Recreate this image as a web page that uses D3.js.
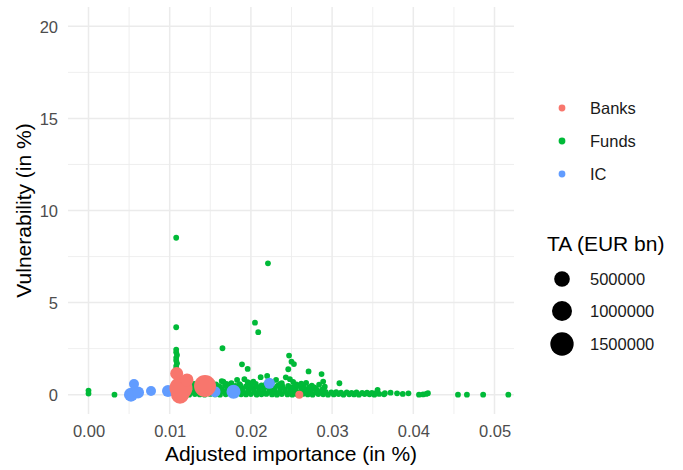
<!DOCTYPE html>
<html><head><meta charset="utf-8">
<script src="https://cdn.jsdelivr.net/npm/d3@7"></script>
<style>body{margin:0;background:#fff} text{font-family:"Liberation Sans",Arial,sans-serif}</style>
</head><body><svg id="c" width="683" height="470"></svg>
<script>
// ---------------- DATA ----------------
const seriesNames = ["Banks", "Funds", "IC"];
const xTicks = [0, 0.01, 0.02, 0.03, 0.04, 0.05];
const xMinor = [0.005, 0.015, 0.025, 0.035, 0.045];
const yTicks = [0, 5, 10, 15, 20];
const yMinor = [2.5, 7.5, 12.5, 17.5];
const sizeBreaks = [500000, 1000000, 1500000];

// [adjusted importance %, vulnerability %, total assets EUR bn]
const banks = [
  [0.01127, 0.00, 748000],
  [0.01139, 0.36, 1446000],
  [0.01086, 1.15, 278000],
  [0.01213, 0.80, 278000],
  [0.01435, 0.47, 1289000],
  [0.02596, 0.00, 36000]
];
const ic = [
  [0.00523, 0.00, 354000],
  [0.00560, 0.58, 105000],
  [0.00610, 0.12, 211000],
  [0.00770, 0.20, 105000],
  [0.00979, 0.20, 211000],
  [0.01558, 0.16, 154000],
  [0.01786, 0.16, 354000],
  [0.02227, 0.62, 154000]
];
const fundsTA = 1500; // typical (small) fund total assets
// [adjusted importance %, vulnerability %]
const funds = [
  [0.0108,8.52],[0.0221,7.13],[0.0108,3.66],[0.0205,3.91],[0.0209,3.39],[0.0165,2.52],
  [0.0189,1.65],[0.0196,1.40],[0.0247,2.12],[0.0250,1.79],[0.0253,1.66],[0.0246,1.38],
  [0.0271,1.26],[0.0287,1.12],[0.0289,0.71],[0.0291,0.43],[0.0309,0.62],[0.0356,0.26],
  [0.0220,1.02],[0.0212,0.95],[0.0243,0.94],[0.0192,0.84],[0.0238,0.62],[0.0203,0.71],
  [0.0275,0.49],[0.0231,0.80],[0.0248,0.84],[0.0183,0.80],[0.0166,0.71],[0.0176,0.62],
  [0.0164,0.74],[0.0201,0.62],
  [0.0108,2.45],[0.0108,2.30],[0.0109,2.15],[0.0108,2.00],[0.0108,1.85],[0.0109,1.70],
  [0.0108,1.55],[0.0108,1.40],[0.0109,1.25],
  [0.0000,0.22],[0.0000,0.06],[0.0032,0.00],
  [0.0365,0.08],[0.0372,0.11],[0.0380,0.07],[0.0387,0.04],[0.0394,0.07],[0.0407,0.00],
  [0.0412,0.01],[0.0416,0.04],[0.0418,0.08],[0.0455,0.00],[0.0466,0.00],[0.0486,0.00],[0.0517,0.00],
  [0.0118,0.02],[0.0124,0.00],[0.0131,0.03],[0.0137,0.01],[0.0143,0.00],[0.0150,0.04],[0.0156,0.01],
  [0.0162,0.00],[0.0169,0.02],[0.0175,0.05],[0.0181,0.00],[0.0188,0.02],[0.0194,0.01],[0.0200,0.03],
  [0.0207,0.00],[0.0213,0.02],[0.0219,0.04],[0.0226,0.01],[0.0232,0.00],[0.0238,0.03],[0.0245,0.01],
  [0.0251,0.00],[0.0257,0.02],[0.0264,0.04],[0.0270,0.01],[0.0276,0.00],[0.0283,0.03],[0.0289,0.02],
  [0.0295,0.00],[0.0302,0.01],[0.0308,0.03],[0.0314,0.00],[0.0321,0.02],[0.0327,0.01],[0.0333,0.00],
  [0.0340,0.03],[0.0346,0.02],[0.0352,0.00],[0.0358,0.04],[0.0364,0.02],
  [0.0121,0.16],[0.0127,0.14],[0.0134,0.18],[0.0140,0.15],[0.0147,0.13],[0.0153,0.17],[0.0159,0.15],
  [0.0166,0.19],[0.0172,0.14],[0.0178,0.16],[0.0185,0.18],[0.0191,0.13],[0.0197,0.17],[0.0204,0.15],
  [0.0210,0.19],[0.0216,0.14],[0.0223,0.16],[0.0229,0.18],[0.0235,0.13],[0.0242,0.17],[0.0248,0.15],
  [0.0254,0.19],[0.0261,0.14],[0.0267,0.16],[0.0273,0.18],[0.0280,0.13],[0.0286,0.17],[0.0292,0.15],
  [0.0299,0.12],[0.0305,0.14],[0.0311,0.11],[0.0318,0.13],[0.0324,0.10],[0.0330,0.12],[0.0337,0.09],
  [0.0343,0.11],[0.0349,0.10],[0.0355,0.12],
  [0.0118,0.30],[0.0125,0.33],[0.0132,0.28],[0.0138,0.31],[0.0145,0.34],[0.0151,0.29],[0.0158,0.32],
  [0.0164,0.30],[0.0171,0.35],[0.0177,0.28],[0.0184,0.31],[0.0190,0.33],[0.0197,0.29],[0.0203,0.32],
  [0.0210,0.34],[0.0216,0.30],[0.0223,0.28],[0.0229,0.33],[0.0236,0.31],[0.0242,0.29],[0.0249,0.34],
  [0.0255,0.30],[0.0262,0.32],[0.0268,0.28],[0.0275,0.31],[0.0281,0.27],[0.0288,0.29],
  [0.0121,0.45],[0.0128,0.48],[0.0135,0.43],[0.0141,0.47],[0.0148,0.50],[0.0154,0.44],[0.0161,0.46],
  [0.0168,0.49],[0.0174,0.43],[0.0181,0.47],[0.0187,0.51],[0.0194,0.45],[0.0200,0.48],[0.0207,0.44],
  [0.0213,0.50],[0.0220,0.46],[0.0226,0.43],[0.0233,0.49],[0.0239,0.45],[0.0246,0.47],[0.0252,0.42],
  [0.0259,0.48],[0.0265,0.44],[0.0272,0.41],[0.0278,0.39],
  [0.0130,0.58],[0.0142,0.60],[0.0157,0.56],[0.0170,0.59],[0.0186,0.57],[0.0206,0.58],[0.0218,0.55],
  [0.0236,0.57],[0.0256,0.56],[0.0262,0.60],[0.0284,0.54],
  [0.0152,0.66],[0.0196,0.68],[0.0226,0.66],[0.0252,0.70],[0.0268,0.64]
];

// ---------------- CHART ----------------
const svg = d3.select("#c");
const P = {left: 68, right: 514, top: 7, bottom: 414};
const x = d3.scaleLinear().domain([-0.002525, 0.0524]).range([P.left, P.right]);
const y = d3.scaleLinear().domain([-1.05, 21.05]).range([P.bottom, P.top]);
const r = d3.scaleSqrt().domain([0, 1e6]).range([2.6, 10]);
const color = d3.scaleOrdinal().domain(seriesNames).range(["#F8766D", "#00BA38", "#619CFF"]);

const grid = svg.append("g");
grid.selectAll(".vx").data(xMinor).join("line")
  .attr("x1", d => x(d)).attr("x2", d => x(d)).attr("y1", P.top).attr("y2", P.bottom)
  .attr("stroke", "#EBEBEB").attr("stroke-width", 0.8);
grid.selectAll(".hy").data(yMinor).join("line")
  .attr("y1", d => y(d)).attr("y2", d => y(d)).attr("x1", P.left).attr("x2", P.right)
  .attr("stroke", "#EBEBEB").attr("stroke-width", 0.8);
grid.selectAll(".vX").data(xTicks).join("line")
  .attr("x1", d => x(d)).attr("x2", d => x(d)).attr("y1", P.top).attr("y2", P.bottom)
  .attr("stroke", "#EBEBEB").attr("stroke-width", 1.5);
grid.selectAll(".hY").data(yTicks).join("line")
  .attr("y1", d => y(d)).attr("y2", d => y(d)).attr("x1", P.left).attr("x2", P.right)
  .attr("stroke", "#EBEBEB").attr("stroke-width", 1.5);

// axes (labels only, via d3 axis)
const fmt = d3.format(".2f");
const gx = svg.append("g").attr("transform", `translate(0,${P.bottom})`)
  .call(d3.axisBottom(x).tickValues(xTicks).tickFormat(fmt).tickSize(0).tickPadding(0));
gx.select(".domain").remove();
gx.selectAll("text").attr("y", 23).attr("dy", 0).attr("fill", "#4D4D4D")
  .style("font-size", "16.5px").style("font-family", '"Liberation Sans",Arial,sans-serif');
const gy = svg.append("g").attr("transform", `translate(${P.left},0)`)
  .call(d3.axisLeft(y).tickValues(yTicks).tickSize(0).tickPadding(10));
gy.select(".domain").remove();
gy.selectAll("text").attr("fill", "#4D4D4D").attr("dy", "0.36em")
  .style("font-size", "16.5px").style("font-family", '"Liberation Sans",Arial,sans-serif');

svg.append("text").attr("x", (P.left + P.right) / 2).attr("y", 461)
  .attr("text-anchor", "middle").style("font-size", "21px").attr("fill", "#000")
  .text("Adjusted importance (in %)");
svg.append("text").attr("transform", `translate(31,${(P.top + P.bottom) / 2}) rotate(-90)`)
  .attr("text-anchor", "middle").style("font-size", "21px").attr("fill", "#000")
  .text("Vulnerability (in %)");

// points
const pts = svg.append("g");
function draw(data, name, taFn) {
  pts.append("g").selectAll("circle").data(data).join("circle")
    .attr("cx", d => x(d[0])).attr("cy", d => y(d[1]))
    .attr("r", d => r(taFn(d))).attr("fill", color(name));
}
draw(funds, "Funds", () => fundsTA);
draw(ic, "IC", d => d[2]);
draw(banks, "Banks", d => d[2]);

// legend: colour
const lg = svg.append("g");
const legY = [108, 141, 174];
seriesNames.forEach((s, i) => {
  lg.append("circle").attr("cx", 562).attr("cy", legY[i]).attr("r", 3.4).attr("fill", color(s));
  lg.append("text").attr("x", 590).attr("y", legY[i]).attr("dy", "0.36em")
    .style("font-size", "16.5px").attr("fill", "#1A1A1A").text(s);
});
// legend: size
lg.append("text").attr("x", 547).attr("y", 251).style("font-size", "21px").attr("fill", "#000")
  .text("TA (EUR bn)");
const sizeY = [279, 311, 344];
sizeBreaks.forEach((b, i) => {
  lg.append("circle").attr("cx", 562).attr("cy", sizeY[i]).attr("r", r(b)).attr("fill", "#000");
  lg.append("text").attr("x", 590).attr("y", sizeY[i]).attr("dy", "0.36em")
    .style("font-size", "16.5px").attr("fill", "#1A1A1A").text(d3.format("d")(b));
});
</script></body></html>
